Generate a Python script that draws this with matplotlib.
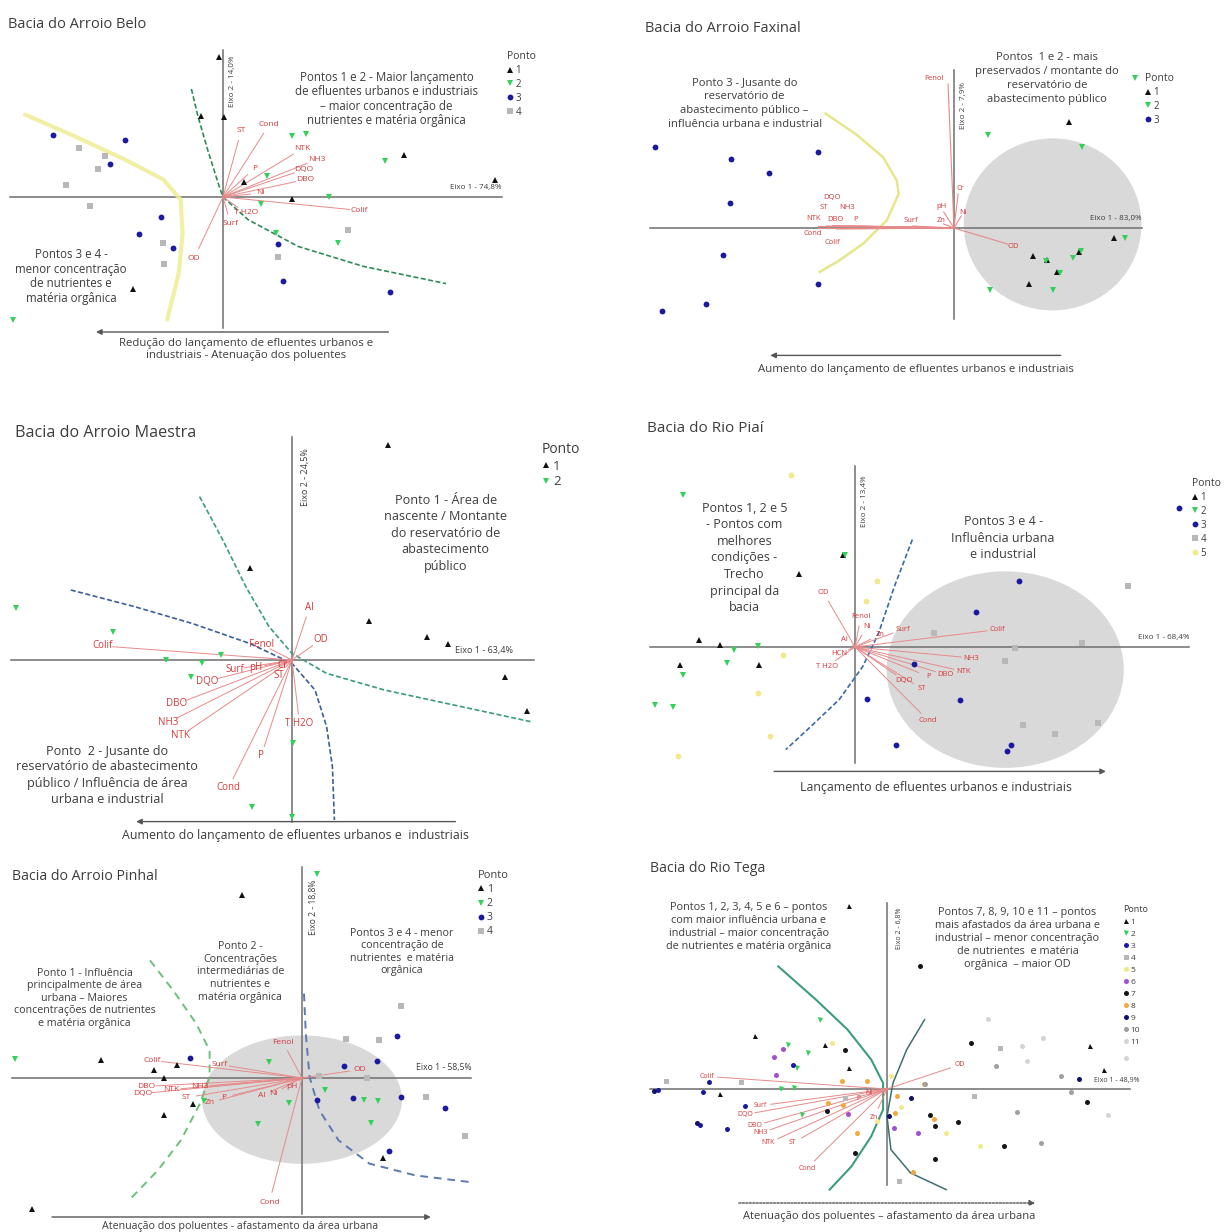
import numpy as np
import matplotlib.pyplot as plt
from matplotlib.patches import Ellipse

plt.rcParams['font.family'] = ['Open Sans', 'DejaVu Sans']

W, H = 1227, 1232
TXT = '#3d3d3d'
AXC = '#6e6e6e'
RED = '#d43a3a'
REDLINE = '#e68a8a'

# marker / colour per "Ponto"
MARK = {1: ('^', '#111111'), 2: ('v', '#35d05a'), 3: ('o', '#1a1aa0'), 4: ('s', '#b8b8b8'),
        5: ('o', '#f0ea8a'), 6: ('o', '#a050d0'), 7: ('o', '#151515'), 8: ('o', '#f0a840'),
        9: ('o', '#10106e'), 10: ('o', '#a0a0a0'), 11: ('o', '#d4d4d4')}

# ---------------- Bacia do Arroio Belo ----------------
belo_x = [-0.19, -1.12, 0.06, 9.04, 13.6, 1.06, 3.46, -4.52,
          3.46, 4.13, 8.08, 2.21, 1.92, 5.29, 2.63, 5.77, -10.48,
          -8.5, -4.9, -5.67, -3.08, -4.19, -2.5, 2.73, 3.02, 8.37,
          -7.21, -5.9, -6.25, -7.83, -6.67, -2.98, -2.94, 2.73, 6.25]
belo_y = [7.0, 4.07, 4.0, 2.12, 0.87, 0.73, -0.1, -4.6,
          3.03, 3.15, 1.78, 1.03, -0.33, 0.0, -1.8, -2.3, -6.17,
          3.12, 2.87, 1.65, -1.0, -1.85, -2.55, -2.33, -4.18, -4.77,
          2.47, 2.07, 1.4, 0.62, -0.43, -2.3, -3.35, -3.0, -1.63]
belo_ponto = [1] * 8 + [2] * 9 + [3] * 9 + [4] * 9
belo_vars = ['ST', 'Cond', 'NTK', 'NH3', 'DQO', 'DBO', 'P', 'Ni', 'Colif', 'T H2O', 'Surf', 'OD']
belo_vx = [0.9, 2.3, 3.94, 4.67, 4.04, 4.13, 1.6, 1.88, 6.83, 1.15, 0.38, -1.44]
belo_vy = [3.3, 3.6, 2.4, 1.87, 1.37, 0.87, 1.45, 0.2, -0.67, -0.8, -1.33, -3.05]
belo_green_x = [-1.58, -1.25, -0.77, -0.19, 0, 1.25, 3.75, 7.02, 11.15]
belo_green_y = [5.4, 4.03, 2.37, 0.53, 0, -1.13, -2.47, -3.47, -4.33]
belo_yellow_x = [-9.9, -7.4, -4.9, -2.98, -2.12, -2.02, -2.21, -2.79]
belo_yellow_y = [4.12, 3.03, 1.87, 0.87, -0.13, -1.8, -3.8, -6.13]

# ---------------- Bacia do Arroio Faxinal ----------------
fax_x = [5.58, 3.85, 4.52, 5.0, 3.65, 6.06, 7.79,
         8.81, 1.67, 6.21, 5.77, 4.81, 1.77, 8.33, 6.19, 4.48, 5.15,
         -14.56, -10.87, -9.0, -6.6, -10.9, -11.25, -6.63, -12.08, -14.19]
fax_y = [5.3, -1.42, -1.62, -2.2, -2.78, -1.2, -0.48,
         7.52, 4.63, 4.05, -1.48, -3.08, -3.08, -0.52, -1.15, -1.65, -2.25,
         4.05, 3.45, 2.77, 3.8, 1.25, -1.37, -2.78, -3.82, -4.17]
fax_ponto = [1] * 7 + [2] * 10 + [3] * 9
fax_vars = ['Fenol', 'Cr', 'Ni', 'pH', 'Zn', 'Surf', 'P', 'DBO', 'NTK', 'ST', 'NH3', 'DQO', 'Cond', 'Colif', 'OD']
fax_vx = [-0.29, 0.2, 0.35, -0.5, -0.5, -2.0, -4.6, -5.6, -6.6, -6.2, -5.1, -5.9, -6.6, -5.7, 2.6]
fax_vy = [7.2, 1.7, 0.6, 0.8, 0.2, 0.1, 0.1, 0.1, 0.08, 0.1, 0.1, 0.12, 0.0, -0.05, -0.8]
fax_yellow_x = [-6.25, -4.81, -3.46, -2.79, -2.69, -3.27, -4.42, -5.58, -6.54]
fax_yellow_y = [5.72, 4.72, 3.55, 2.38, 1.72, 0.38, -0.78, -1.62, -2.2]

# ---------------- Bacia do Arroio Maestra ----------------
mae_x = [4.81, -2.12, 3.85, 6.73, 7.79, 10.67, 11.73,
         -13.81, -8.94, -3.56, -6.31, -4.48, -5.06, 0.04, -2.02, 0.0]
mae_y = [10.75, 4.58, 1.97, 1.13, 0.78, -0.87, -2.53,
         2.58, 1.38, 0.25, 0.0, -0.13, -0.83, -4.17, -7.33, -7.83]
mae_ponto = [1] * 7 + [2] * 9
mae_vars = ['Colif', 'Fenol', 'Al', 'OD', 'Surf', 'pH', 'ST', 'Cr', 'DQO', 'DBO', 'NH3', 'NTK', 'T H2O', 'P', 'Cond']
mae_vx = [-9.46, -1.54, 0.87, 1.44, -2.88, -1.83, -0.67, -0.48, -4.23, -5.77, -6.21, -5.58, 0.38, -1.54, -3.17]
mae_vy = [0.7, 0.78, 2.63, 1.0, -0.47, -0.38, -0.75, -0.25, -1.05, -2.2, -3.13, -3.8, -3.2, -4.8, -6.38]
mae_green_x = [-4.62, -3.46, -2.31, -1.15, 0, 1.73, 4.62, 8.46, 11.92]
mae_green_y = [8.17, 6.0, 3.67, 1.67, 0.33, -0.67, -1.5, -2.33, -3.08]
mae_blue_x = [-11.06, -7.88, -5.0, -2.12, 0, 1.15, 1.73, 2.02, 2.12]
mae_blue_y = [3.5, 2.67, 1.83, 0.83, -0.17, -1.5, -3.33, -5.33, -8.0]

# ---------------- Bacia do Rio Piaí ----------------
piai_x = [-7.6, -6.58, -8.5, -4.65, -2.73, -0.58,
          -8.37, -5.9, -6.25, -4.71, -8.37, -9.75, -8.85, -0.48,
          15.77, 7.98, 5.87, 2.88, 0.58, 5.1, 1.98, 7.6, 7.4,
          13.27, 3.85, 7.79, 7.31, 11.06, 8.17, 9.71, 11.83,
          -3.12, 1.06, 0.54, -3.52, -4.71, -4.13, -8.62]
piai_y = [0.37, 0.08, -0.92, -0.92, 3.67, 4.62,
          7.62, -0.13, -0.8, 0.03, -1.42, -2.92, -3.0, 4.58,
          6.95, 3.32, 1.75, -0.85, -2.58, -2.67, -4.92, -4.88, -5.18,
          3.07, 0.7, -0.05, -0.68, 0.2, -3.88, -4.35, -3.8,
          8.62, 3.28, 2.28, -0.42, -2.3, -4.47, -5.47]
piai_ponto = [1] * 6 + [2] * 8 + [3] * 9 + [4] * 8 + [5] * 7
piai_vars = ['OD', 'Fenol', 'Ni', 'Zn', 'Surf', 'Colif', 'Al', 'HCN', 'T H2O', 'NH3', 'NTK', 'DBO', 'P', 'ST', 'DQO', 'Cond']
piai_vx = [-1.54, 0.29, 0.58, 1.21, 2.31, 6.92, -0.52, -0.77, -1.35, 5.67, 5.29, 4.38, 3.56, 3.27, 2.4, 3.56]
piai_vy = [2.73, 1.53, 1.03, 0.62, 0.87, 0.87, 0.37, -0.33, -0.97, -0.55, -1.22, -1.38, -1.47, -2.1, -1.68, -3.67]
piai_blue_x = [2.79, 1.92, 1.15, 0.38, -0.77, -2.31, -3.37]
piai_blue_y = [5.37, 3.03, 0.7, -0.97, -2.63, -4.13, -5.13]

# ---------------- Bacia do Arroio Pinhal ----------------
pin_x = [-2.98, -10.06, -7.4, -6.25, -6.92, -5.44, -6.88, 4.04, -13.5,
         -14.33, 0.77, -1.63, -4.9, -0.67, -2.21, 1.15, 3.08, 3.79, 3.46,
         -5.62, 4.75, 2.12, 3.75, 0.73, 2.54, 4.96, 7.15, 4.37,
         4.96, 2.21, 3.85, 6.21, 8.13, 3.27, 0.87]
pin_y = [9.17, 0.88, 0.38, 0.63, 0.0, -1.32, -1.87, -3.98, -6.53,
         0.93, 10.22, 0.8, -1.15, -1.23, -2.28, -0.58, -1.12, -1.15, -2.23,
         1.02, 2.08, 0.58, 0.85, -1.08, -0.98, -0.95, -1.5, -3.67,
         3.6, 1.93, 1.88, -0.95, -2.9, 0.0, 0.08]
pin_ponto = [1] * 9 + [2] * 10 + [3] * 9 + [4] * 7
pin_vars = ['Fenol', 'Surf', 'Colif', 'OD', 'DBO', 'DQO', 'NTK', 'NH3', 'ST', 'Zn', 'P', 'Al', 'Ni', 'pH', 'Cond']
pin_vx = [-0.96, -4.13, -7.5, 2.88, -7.79, -7.98, -6.54, -5.1, -5.77, -4.62, -3.94, -2.02, -1.44, -0.48, -1.63]
pin_vy = [1.8, 0.68, 0.88, 0.42, -0.42, -0.78, -0.58, -0.42, -0.98, -1.23, -0.98, -0.87, -0.78, -0.45, -6.2]
pin_green_x = [-7.6, -6.44, -5.29, -4.62, -4.62, -5.1, -6.06, -7.21, -8.65]
pin_green_y = [5.88, 4.38, 2.72, 1.38, 0.05, -1.28, -3.12, -4.62, -6.12]
pin_blue_x = [0.1, 0.19, 0.38, 0.87, 1.83, 3.37, 5.67, 8.37]
pin_blue_y = [4.22, 2.22, 0.05, -1.62, -3.12, -4.28, -4.87, -5.2]

# ---------------- Bacia do Rio Tega ----------------
tega_x = [-1.83, -6.44, -3.02, -1.87, -8.12, 9.9, 10.54,
          -3.27, -4.81, -3.85, -4.4, -5.15, -4.52, -4.13,
          -4.58, -8.65, -8.94, -6.92, -9.08, -7.79, -11.15,
          -10.77, -7.12, -2.02, 5.48, 4.23, 0.58,
          0.19, -2.7, 2.88, 4.52, -0.5, 0.7,
          -5.06, -5.38, -5.5, -1.92, 0.35, 1.5,
          1.63, -2.02, -2.92, -1.54, 2.08, 2.35, 3.46, 2.35, 5.67, 4.08, 9.71,
          -2.21, -0.96, 1.79, -2.88, -2.12, -1.44, 0.48, 1.25, 0.4, 2.3,
          -11.35, 0.1, 1.15, 9.33, -9.25,
          6.35, 7.5, 5.29, 8.46, 8.94, 1.83,
          4.9, 6.58, 7.6, 6.83, 11.63, 10.73]
tega_y = [9.13, 2.63, 2.22, 1.05, -0.25, 2.17, 0.93,
          3.43, 2.22, 1.8, 1.05, 0.0, 0.05, -1.28,
          1.22, 0.33, -0.15, -0.83, -1.78, -2.0, -0.03,
          0.42, 0.35, -0.45, 2.05, -0.37, -4.62,
          0.63, 2.3, -2.2, -2.87, -1.6, -0.9,
          2.0, 0.72, 1.6, -1.23, -1.95, -2.2,
          6.13, 1.97, -1.08, -3.2, -1.28, -1.83, -1.67, -3.5, -2.87, 2.3, -0.67,
          0.38, 0.38, 0.25, -0.7, -0.78, -2.2, -0.37, -4.17, -1.2, -1.5,
          -0.1, -1.37, -0.45, 0.5, -1.7,
          -1.15, -2.7, 1.13, 0.67, -0.17, 0.25,
          3.5, 2.17, 2.55, 1.38, 1.55, -1.32]
tega_ponto = ([1] * 7 + [2] * 7 + [3] * 7 + [4] * 6 + [5] * 6 + [6] * 6 + [7] * 11 + [8] * 10
              + [9] * 5 + [10] * 6 + [11] * 6)
tega_vars = ['Colif', 'OD', 'Surf', 'DQO', 'DBO', 'NH3', 'NTK', 'ST', 'Cond', 'Zn', 'P', 'Ni']
tega_vx = [-8.75, 3.56, -6.15, -6.92, -6.44, -6.15, -5.77, -4.58, -3.88, -0.63, -1.4, -0.9]
tega_vy = [0.63, 1.22, -0.83, -1.28, -1.83, -2.2, -2.7, -2.7, -3.95, -1.42, -0.45, -0.2]
tega_c1_x = [-5.29, -3.46, -1.92, -0.77, -0.19, -0.19, -0.77, -1.73, -2.79]
tega_c1_y = [6.13, 4.47, 2.97, 1.47, 0.3, -1.03, -2.37, -3.87, -5.03]
tega_c2_x = [1.83, 0.96, 0.29, 0.0, 0.19, 1.15, 2.88]
tega_c2_y = [3.47, 1.97, 0.3, -1.37, -3.03, -4.2, -5.03]


fig = plt.figure(figsize=(W / 100, H / 100), dpi=100)
fig.patch.set_facecolor('white')


def panel(box, origin, sx=20.0, sy=20.0):
    l, t, w, h = box
    ox, oy = origin
    ax = fig.add_axes([l / W, 1 - (t + h) / H, w / W, h / H])
    ax.set_xlim((l - ox) / sx, (l + w - ox) / sx)
    ax.set_ylim((oy - t - h) / sy, (oy - t) / sy)
    ax.axis('off')
    return ax


def title(x, y, s, fs=10.5):
    fig.text(x / W, 1 - y / H, s, fontsize=fs, color=TXT, va='center', ha='left')


def cross(ax, xr, yr, lab1, p1, lab2, p2, fs=5.8, ha1='right'):
    ax.plot(xr, [0, 0], color=AXC, lw=1.1, zorder=2)
    ax.plot([0, 0], yr, color=AXC, lw=1.1, zorder=2)
    ax.text(p1[0], p1[1], lab1, ha=ha1, va='bottom', fontsize=fs, color=TXT)
    ax.text(p2[0], p2[1], lab2, rotation=90, ha='left', va='center', fontsize=fs, color=TXT)


def points(ax, xs, ys, grp, ms=4.2):
    xs, ys, grp = np.array(xs), np.array(ys), np.array(grp)
    for g in sorted(set(grp.tolist())):
        m, c = MARK[g]
        sel = grp == g
        ax.plot(xs[sel], ys[sel], ls='none', marker=m, color=c, ms=ms, mew=0,
                zorder=6, label=str(g))


def legend(ax, pos, fs=7, ls=0.3):
    lg = ax.legend(title='Ponto', loc='upper left', bbox_to_anchor=pos, bbox_transform=ax.transData,
                   frameon=False, fontsize=fs, title_fontsize=fs + 0.5, handlelength=0.6,
                   handletextpad=0.25, labelspacing=ls, borderpad=0, borderaxespad=0,
                   alignment='left', labelcolor=TXT)
    lg.get_title().set_color(TXT)


def loadings(ax, names, vx, vy, fs=5.5, labels=None, gap=0.5):
    for i, (n, x, y) in enumerate(zip(names, vx, vy)):
        if labels is None:
            r = np.hypot(x, y)
            f = max(r - gap, 0) / r if r > 0 else 0
            ax.plot([0, x * f], [0, y * f], color=REDLINE, lw=0.7, zorder=4)
            ax.text(x, y, n, color=RED, fontsize=fs, ha='center', va='center', zorder=7)
        else:
            ax.plot([0, x], [0, y], color=REDLINE, lw=0.8, zorder=4)
            ax.text(labels[0][i], labels[1][i], n, color=RED, fontsize=fs, ha='center',
                    va='center', zorder=7)


def note(ax, x, y, s, fs=8.0, ls=1.15):
    ax.text(x, y, s, ha='center', va='center', fontsize=fs, color=TXT, linespacing=ls, zorder=8)


def arrow(ax, x0, x1, y, text, ty, tx, fs=8.0, ls='-'):
    ax.annotate('', xy=(x1, y), xytext=(x0, y),
                arrowprops=dict(arrowstyle='-|>', color='#555555', lw=1.0, mutation_scale=8,
                                linestyle=ls, shrinkA=0, shrinkB=0))
    ax.text(tx, ty, text, ha='center', va='center', fontsize=fs, color=TXT, linespacing=1.2)


# ---- Panel 1: Arroio Belo
ax = panel((0, 0, 610, 400), (223, 197))
title(8, 25, 'Bacia do Arroio Belo', fs=10.5)
cross(ax, [-10.67, 13.94], [7.37, -6.55], 'Eixo 1 - 74,8%', (13.9, 0.3), 'Eixo 2 - 14,0%', (0.3, 5.8))
ax.plot(belo_yellow_x, belo_yellow_y, color='#eeee96', lw=3.0, alpha=0.85, zorder=3, solid_capstyle='round')
ax.plot(belo_green_x, belo_green_y, color='#2e8b57', lw=1.2, ls=(0, (3, 1.5)), zorder=3)
loadings(ax, belo_vars, belo_vx, belo_vy, fs=6)
points(ax, belo_x, belo_y, belo_ponto)
legend(ax, (14.2, 7.3), fs=7)
note(ax, 8.17, 4.9, 'Pontos 1 e 2 - Maior lançamento\nde efluentes urbanos e industriais\n– maior concentração de\nnutrientes e matéria orgânica', fs=8.3)
note(ax, -7.6, -3.97, 'Pontos 3 e 4 -\nmenor concentração\nde nutrientes e\nmatéria orgânica', fs=8.3)
arrow(ax, 8.27, -6.35, -6.75, 'Redução do lançamento de efluentes urbanos e\nindustriais - Atenuação dos poluentes', -7.63, 1.15, fs=8.2)

# ---- Panel 2: Arroio Faxinal
ax = panel((610, 0, 617, 400), (954, 228), sx=20.55)
title(645, 28, 'Bacia do Arroio Faxinal', fs=10.5)
ax.add_patch(Ellipse((4.8, 0.18), 8.65, 8.6, fc='#d9d9d9', ec='none', zorder=1))
cross(ax, [-14.8, 9.13], [7.88, -4.53], 'Eixo 1 - 83,0%', (9.1, 0.3), 'Eixo 2 - 7,9%', (0.3, 6.13))
ax.plot(fax_yellow_x, fax_yellow_y, color='#e6e68c', lw=1.8, zorder=3)
fax_lab = ([-1.0, 0.29, 0.44, -0.62, -0.62, -2.12, -4.77, -5.77, -6.83, -6.35, -5.19, -5.96, -6.87, -5.9, 2.88],
           [7.5, 1.97, 0.8, 1.05, 0.38, 0.38, 0.43, 0.43, 0.47, 1.02, 1.02, 1.55, -0.28, -0.7, -0.9])
loadings(ax, fax_vars, fax_vx, fax_vy, labels=fax_lab, fs=5.5)
points(ax, fax_x, fax_y, fax_ponto)
legend(ax, (9.3, 7.75), fs=7)
note(ax, -10.19, 6.22, 'Ponto 3 - Jusante do\nreservatório de\nabastecimento público –\ninfluência urbana e industrial', fs=8.1, ls=1.4)
note(ax, 4.52, 7.47, 'Pontos  1 e 2 - mais\npreservados / montante do\nreservatório de\nabastecimento público', fs=8.1, ls=1.4)
arrow(ax, 5.19, -8.94, -6.37, 'Aumento do lançamento de efluentes urbanos e industriais', -7.08, -1.83, fs=8.2)

# ---- Panel 3: Arroio Maestra
ax = panel((0, 400, 610, 450), (292, 660))
title(15, 433, 'Bacia do Arroio Maestra', fs=11.6)
cross(ax, [-14.04, 12.12], [11.17, -8.08], 'Eixo 1 - 63,4%', (8.17, 0.25), 'Eixo 2 - 24,5%', (0.45, 9.17),
      fs=6.5, ha1='left')
ax.plot(mae_green_x, mae_green_y, color='#3a9a80', lw=1.2, ls=(0, (3, 1.5)), zorder=3)
ax.plot(mae_blue_x, mae_blue_y, color='#3a5f9a', lw=1.2, ls=(0, (3, 1.5)), zorder=3)
loadings(ax, mae_vars, mae_vx, mae_vy, fs=7)
points(ax, mae_x, mae_y, mae_ponto, ms=4.6)
legend(ax, (12.5, 10.9), fs=9.5, ls=0.2)
note(ax, 7.69, 6.33, 'Ponto 1 - Área de\nnascente / Montante\ndo reservatório de\nabastecimento\npúblico', fs=9.1, ls=1.35)
note(ax, -9.23, -5.75, 'Ponto  2 - Jusante do\nreservatório de abastecimento\npúblico / Influência de área\nurbana e industrial', fs=9.1, ls=1.35)
arrow(ax, 8.17, -7.79, -8.08, 'Aumento do lançamento de efluentes urbanos e  industriais', -8.75, 0.19, fs=8.9)

# ---- Panel 4: Rio Piaí
ax = panel((610, 400, 617, 450), (855, 647), sx=20.55)
title(647, 429, 'Bacia do Rio Piaí', fs=11)
ax.add_patch(Ellipse((7.31, -1.13), 11.54, 9.83, fc='#d9d9d9', ec='none', zorder=1))
cross(ax, [-10.0, 16.25], [9.03, -5.8], 'Eixo 1 - 68,4%', (16.25, 0.3), 'Eixo 2 - 13,4%', (0.3, 7.28))
ax.plot(piai_blue_x, piai_blue_y, color='#3a6aa8', lw=1.2, ls=(0, (3, 1.5)), zorder=3)
loadings(ax, piai_vars, piai_vx, piai_vy, fs=5.5)
points(ax, piai_x, piai_y, piai_ponto)
legend(ax, (16.4, 8.45), fs=7)
note(ax, -5.38, 4.45, 'Pontos 1, 2 e 5\n- Pontos com\nmelhores\ncondições -\nTrecho\nprincipal da\nbacia', fs=9.0, ls=1.35)
note(ax, 7.21, 5.45, 'Pontos 3 e 4 -\nInfluência urbana\ne industrial', fs=9.0, ls=1.35)
arrow(ax, -3.94, 12.21, -6.22, 'Lançamento de efluentes urbanos e industriais', -7.02, 3.94, fs=8.9)

# ---- Panel 5: Arroio Pinhal
ax = panel((0, 850, 610, 382), (302, 1078))
title(12, 876, 'Bacia do Arroio Pinhal', fs=10.2)
ax.add_patch(Ellipse((0, -1.08), 10, 6.42, fc='#d9d9d9', ec='none', zorder=1))
cross(ax, [-14.52, 8.46], [10.55, -6.78], 'Eixo 1 - 58,5%', (8.46, 0.3), 'Eixo 2 - 18,8%', (0.35, 8.55), fs=6.2)
ax.plot(pin_green_x, pin_green_y, color='#6cc07a', lw=1.4, ls=(0, (4, 3)), zorder=3)
ax.plot(pin_blue_x, pin_blue_y, color='#5a7ab0', lw=1.4, ls=(0, (4, 3)), zorder=3)
loadings(ax, pin_vars, pin_vx, pin_vy, fs=6)
points(ax, pin_x, pin_y, pin_ponto)
legend(ax, (8.8, 10.4), fs=7.5)
note(ax, -10.87, 3.98, 'Ponto 1 - Influência\nprincipalmente de área\nurbana – Maiores\nconcentrações de nutrientes\ne matéria orgânica', fs=7.7, ls=1.2)
note(ax, -3.08, 5.3, 'Ponto 2 -\nConcentrações\nintermediárias de\nnutrientes e\nmatéria orgânica', fs=7.7, ls=1.2)
note(ax, 5.0, 6.3, 'Pontos 3 e 4 - menor\nconcentração de\nnutrientes  e matéria\norgânica', fs=7.7, ls=1.2)
arrow(ax, -12.5, 6.44, -6.95, 'Atenuação dos poluentes - afastamento da área urbana', -7.45, -3.08, fs=7.7)

# ---- Panel 6: Rio Tega
ax = panel((610, 850, 617, 382), (887, 1089), sx=20.55)
title(650, 869, 'Bacia do Rio Tega', fs=10.2)
cross(ax, [-11.54, 11.83], [9.3, -4.78], 'Eixo 1 - 48,9%', (12.3, 0.25), 'Eixo 2 - 6,8%', (0.45, 8.05), fs=5)
ax.plot(tega_c1_x, tega_c1_y, color='#3c9c7c', lw=1.5, zorder=3)
ax.plot(tega_c2_x, tega_c2_y, color='#3f6f6f', lw=1.1, zorder=3)
loadings(ax, tega_vars, tega_vx, tega_vy, fs=5)
points(ax, tega_x, tega_y, tega_ponto, ms=3.6)
legend(ax, (11.5, 9.2), fs=6, ls=0.5)
note(ax, -6.73, 8.1, 'Pontos 1, 2, 3, 4, 5 e 6 – pontos\ncom maior influência urbana e\nindustrial – maior concentração\nde nutrientes e matéria orgânica', fs=7.8, ls=1.25)
note(ax, 6.35, 7.55, 'Pontos 7, 8, 9, 10 e 11 – pontos\nmais afastados da área urbana e\nindustrial – menor concentração\nde nutrientes  e matéria\norgânica  – maior OD', fs=7.8, ls=1.25)
arrow(ax, -7.21, 7.21, -5.7, 'Atenuação dos poluentes – afastamento da área urbana', -6.37, 0.1, fs=8.0,
      ls=(0, (1.5, 1)))

fig.savefig('out.png', dpi=100, facecolor='white')
